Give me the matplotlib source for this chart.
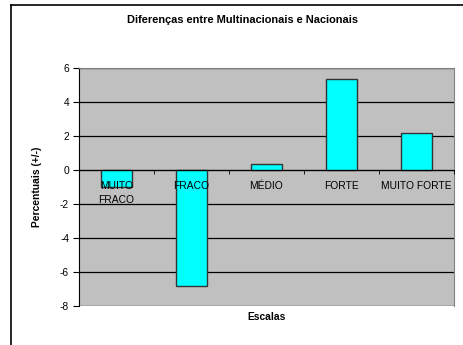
import matplotlib.pyplot as plt
from matplotlib.lines import Line2D
import numpy as np

plt.rcParams['font.family'] = ['Liberation Sans', 'DejaVu Sans']
plt.rcParams['axes.unicode_minus'] = False

escalas = ['MUITO\nFRACO', 'FRACO', 'MÉDIO', 'FORTE', 'MUITO FORTE']
diferencas = [-1.0, -6.8, 0.36, 5.35, 2.2]

fig = plt.figure(figsize=(4.64, 3.45), dpi=100)
ax = fig.add_axes([0.170, 0.113, 0.808, 0.689])
ax.set_facecolor('#C0C0C0')

x = np.arange(len(escalas))
ax.bar(x, diferencas, width=0.42, color='#00FFFF', edgecolor='#333333',
       linewidth=1.0, zorder=2)

ax.set_xlim(-0.5, len(escalas) - 0.5)
ax.set_ylim(-8, 6)
ax.set_yticks(range(-8, 7, 2))
ax.yaxis.grid(True, color='black', linewidth=0.9)
# gridlines behind the bars, category labels on top of them
ax.yaxis.set_zorder(0.5)
ax.xaxis.set_zorder(4)

# category axis runs along zero
ax.spines['bottom'].set_position(('data', 0))
ax.spines['bottom'].set_color('black')
ax.spines['left'].set_color('black')
ax.spines['top'].set_color('#808080')
ax.spines['right'].set_color('#808080')
for s in ax.spines.values():
    s.set_zorder(3)

ax.set_xticks(x)
ax.set_xticklabels(escalas, fontsize=7.4, linespacing=1.45)
ax.tick_params(axis='x', which='major', length=0, pad=8)
ax.set_xticks(np.arange(-0.5, len(escalas)), minor=True)
ax.tick_params(axis='x', which='minor', length=3, direction='out', color='black')
ax.tick_params(axis='y', labelsize=7.4, length=4, direction='out', pad=3)
for lbl in ax.get_xticklabels():
    lbl.set_verticalalignment('top')

ax.set_ylabel('Percentuais (+/-)', fontsize=7.4, fontweight='bold', labelpad=13)
ax.text(0.5, -0.025, 'Escalas', transform=ax.transAxes, ha='center', va='top',
        fontsize=7.4, fontweight='bold')
fig.text(0.522, 0.942, 'Diferenças entre Multinacionais e Nacionais',
         ha='center', va='center', fontsize=7.9, fontweight='bold')

# chart frame (left and top edges)
fig.add_artist(Line2D([11.5 / 464, 11.5 / 464], [0, 1 - 4.5 / 345],
                      transform=fig.transFigure, color='black', linewidth=1.2))
fig.add_artist(Line2D([11.5 / 464, 1], [1 - 4.5 / 345, 1 - 4.5 / 345],
                      transform=fig.transFigure, color='black', linewidth=1.2))

fig.savefig('out.png', dpi=100)
